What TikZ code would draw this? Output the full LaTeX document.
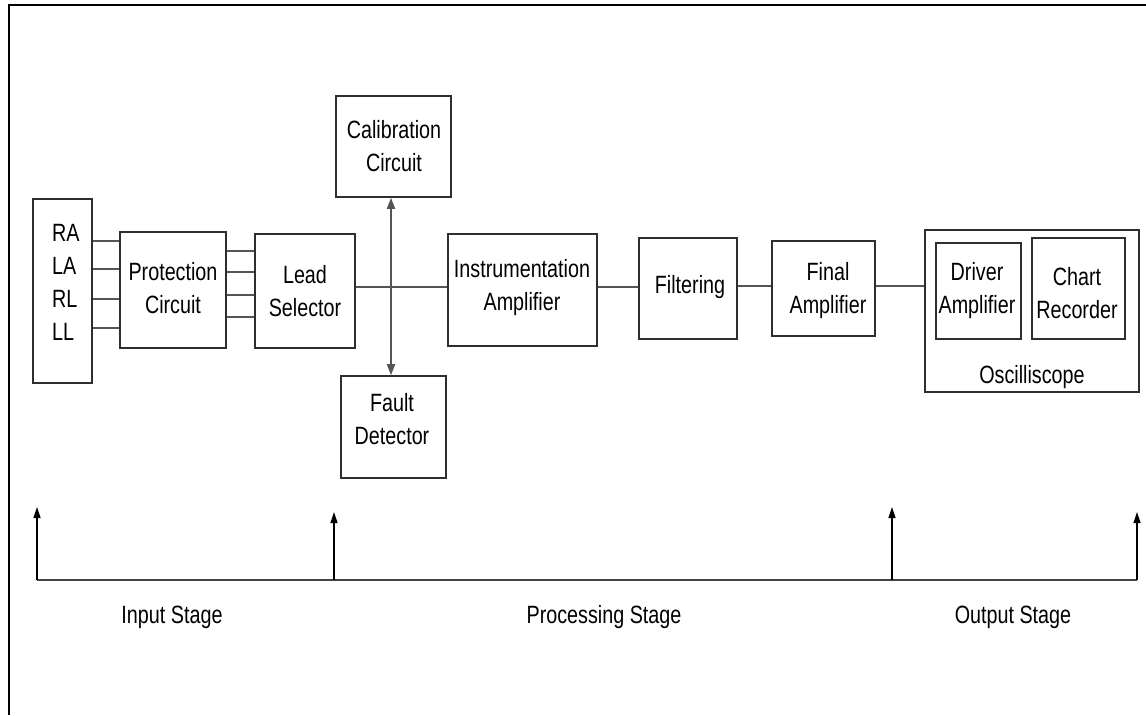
\documentclass[tikz,border=0pt]{standalone}
\usepackage{fontspec}
\setmainfont{Liberation Sans}[FakeStretch=0.79]
\usetikzlibrary{arrows.meta,fit}
\definecolor{ink}{HTML}{2E2E2E}
\definecolor{wirec}{HTML}{555555}
\begin{document}
\begin{tikzpicture}[x=1pt,y=-1pt,
  box/.style={draw=ink,line width=1.6pt,inner sep=0pt},
  txt/.style={font=\fontsize{25}{33}\selectfont,align=center,inner sep=0pt,text=black},
  wire/.style={draw=wirec,line width=1.8pt},
  rail/.style={draw=wirec!80!black,line width=2.4pt},
  upar/.style={draw=black,line width=1.3pt,-{Triangle[length=11pt,width=7pt]}},
  dbl/.style={draw=wirec,line width=1.8pt,{Triangle[length=11pt,width=8pt]}-{Triangle[length=11pt,width=8pt]}}
]
\useasboundingbox (0,0) rectangle (1146,715);
\fill[white] (0,0) rectangle (1146,715);

% outer frame (top and left edges)
\draw[line width=2.6pt] (9,715) -- (9,5) -- (1146,5);

% blocks
\node[box,fit={(33,199) (92,383)}] (leads) {};
\node[box,fit={(120,232) (226,348)}] (prot) {};
\node[box,fit={(255,234) (355,348)}] (lsel) {};
\node[box,fit={(336,96) (451,197)}] (calib) {};
\node[box,fit={(341,376) (446,478)}] (fault) {};
\node[box,fit={(448,234) (597,346)}] (instr) {};
\node[box,fit={(639,238) (737,339)}] (filt) {};
\node[box,fit={(772,241) (875,336)}] (famp) {};
\node[box,fit={(925,230) (1139,392)}] (osc) {};
\node[box,fit={(936,243) (1021,339)}] (drv) {};
\node[box,fit={(1032,238) (1125,339)}] (chart) {};

% block texts
\node[txt,anchor=west,align=left] (leadsT) at (52,282.5) {RA\\LA\\RL\\LL};
\node[txt] (protT) at (173,288) {Protection\\Circuit};
\node[txt] (lselT) at (305,291) {Lead\\Selector};
\node[txt] (calibT) at (394,146) {Calibration\\Circuit};
\node[txt] (faultT) at (392,419) {Fault\\Detector};
\node[txt] (instrT) at (522,287.5) {Instrumentation\\Amplifier};
\node[txt,anchor=base] (filtT) at (690,293) {Filtering};
\node[txt] (fampT) at (828,291) {Final\\Amplifier};
\node[txt] (drvT) at (977,291) {Driver\\Amplifier};
\node[txt] (chartT) at (1077,293) {Chart\\Recorder};
\node[txt,anchor=base] (oscT) at (1032,383) {Oscilliscope};

% stage labels
\node[txt,anchor=base] (inS) at (172,623) {Input Stage};
\node[txt,anchor=base] (procS) at (604,623) {Processing Stage};
\node[txt,anchor=base] (outS) at (1013,623) {Output Stage};

% electrode leads into the protection circuit
\foreach \y in {241,269,299,328}{
  \coordinate (h) at (0,\y);
  \draw[wire] (leads.east |- h) -- (prot.west |- h);
}
% protection circuit into the lead selector
\foreach \y in {251,272,295,317}{
  \coordinate (h) at (0,\y);
  \draw[wire] (prot.east |- h) -- (lsel.west |- h);
}

% signal chain
\coordinate (s1) at (0,287);
\coordinate (s2) at (0,286);
\draw[wire] (lsel.east |- s1) -- (instr.west |- s1);
\draw[wire] (instr.east |- s1) -- (filt.west |- s1);
\draw[wire] (filt.east |- s2) -- (famp.west |- s2);
\draw[wire] (famp.east |- s2) -- (osc.west |- s2);

% calibration / fault detector link
\coordinate (v) at (391,0);
\draw[dbl] (calib.south -| v) -- (fault.north -| v);

% stage rail
\coordinate (b1) at (37,580);
\coordinate (b2) at (334,580);
\coordinate (b3) at (892,580);
\coordinate (b4) at (1137,580);
\coordinate (t1) at (37,507);
\coordinate (t2) at (334,512);
\coordinate (t3) at (892,507);
\coordinate (t4) at (1137,512);
\draw[rail] (b1) -- (b4);
\draw[upar] (b1) -- (t1);
\draw[upar] (b2) -- (t2);
\draw[upar] (b3) -- (t3);
\draw[upar] (b4) -- (t4);
\end{tikzpicture}
\end{document}
